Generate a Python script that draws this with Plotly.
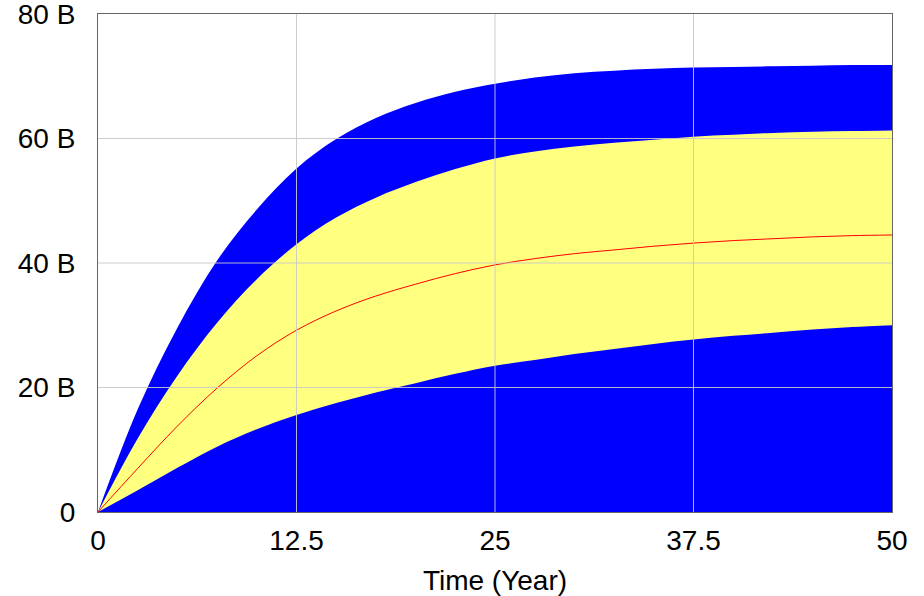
import plotly.graph_objects as go

# Data (values in billions)
time = [0, 2.5, 5, 7.5, 10, 12.5, 15, 17.5, 20, 22.5, 25, 27.5, 30,
        32.5, 35, 37.5, 40, 42.5, 45, 47.5, 50]
band_max = [0, 16.5, 29.6, 40.4, 48.6, 55.2, 59.9, 63.3, 65.7, 67.5, 68.8,
            69.8, 70.5, 70.9, 71.2, 71.4, 71.5, 71.6, 71.7, 71.8, 71.8]
band_upper = [0, 11.8, 21.9, 30.4, 37.4, 43.0, 47.3, 50.5, 53.0, 55.1, 56.8,
              57.9, 58.7, 59.3, 59.8, 60.3, 60.6, 60.9, 61.1, 61.2, 61.3]
median = [0, 7.0, 13.8, 19.9, 25.1, 29.2, 32.3, 34.7, 36.6, 38.3, 39.7, 40.7,
          41.5, 42.1, 42.7, 43.2, 43.6, 43.9, 44.2, 44.4, 44.5]
band_lower = [0, 3.5, 7.1, 10.5, 13.3, 15.6, 17.5, 19.2, 20.7, 22.2, 23.5,
              24.4, 25.4, 26.2, 27.0, 27.7, 28.3, 28.8, 29.3, 29.7, 30.0]

x_ticks = [0, 12.5, 25, 37.5, 50]
x_tick_labels = ["0", "12.5", "25", "37.5", "50"]
y_ticks = [0, 20, 40, 60, 80]
y_tick_labels = ["0", "20 B", "40 B", "60 B", "80 B"]

BLUE = "#0000ff"
YELLOW = "#ffff80"
RED = "#ff0000"
GRID = "rgba(200,200,200,0.9)"
FONT = "Liberation Sans, Arial, sans-serif"

fig = go.Figure()
fig.add_trace(go.Scatter(x=time, y=band_max, mode="lines", fill="tozeroy",
                         fillcolor=BLUE, line=dict(width=0, color=BLUE, shape="spline"),
                         showlegend=False, hoverinfo="skip"))
fig.add_trace(go.Scatter(x=time, y=band_lower, mode="lines",
                         line=dict(width=0, color=YELLOW, shape="spline"),
                         showlegend=False, hoverinfo="skip"))
fig.add_trace(go.Scatter(x=time, y=band_upper, mode="lines", fill="tonexty",
                         fillcolor=YELLOW, line=dict(width=0, color=YELLOW, shape="spline"),
                         showlegend=False, hoverinfo="skip"))
fig.add_trace(go.Scatter(x=time, y=median, mode="lines",
                         line=dict(width=1, color=RED, shape="spline"),
                         showlegend=False))

# gridlines drawn above the filled bands, at the tick positions
shapes = []
for v in x_ticks[1:-1]:
    shapes.append(dict(type="line", xref="x", yref="paper", x0=v, x1=v, y0=0, y1=1,
                       line=dict(color=GRID, width=1), layer="above"))
for v in y_ticks[1:-1]:
    shapes.append(dict(type="line", xref="paper", yref="y", x0=0, x1=1, y0=v, y1=v,
                       line=dict(color=GRID, width=1), layer="above"))

fig.update_layout(
    width=924, height=596,
    margin=dict(l=98, r=32, t=14, b=84, autoexpand=False),
    paper_bgcolor="white", plot_bgcolor="white",
    font=dict(family=FONT, size=28, color="black"),
    shapes=shapes,
    xaxis=dict(range=[0, 50], tickvals=x_ticks, ticktext=x_tick_labels,
               showgrid=False, zeroline=False, showline=True, linecolor="#666666",
               linewidth=1, mirror=True, ticks="", ticklabelstandoff=3,
               automargin=False, ticklabeloverflow="allow",
               title=dict(text="Time (Year)", standoff=15,
                          font=dict(family=FONT, size=28))),
    yaxis=dict(range=[0, 80], tickvals=y_ticks, ticktext=y_tick_labels,
               showgrid=False, zeroline=False, showline=True, linecolor="#666666",
               linewidth=1, mirror=True, ticks="", ticklabelstandoff=16,
               automargin=False, ticklabeloverflow="allow"),
)

fig.write_html(
    "out.html",
    config={"displayModeBar": False},
    post_script="document.body.style.margin='0';document.body.style.overflow='hidden';",
)
